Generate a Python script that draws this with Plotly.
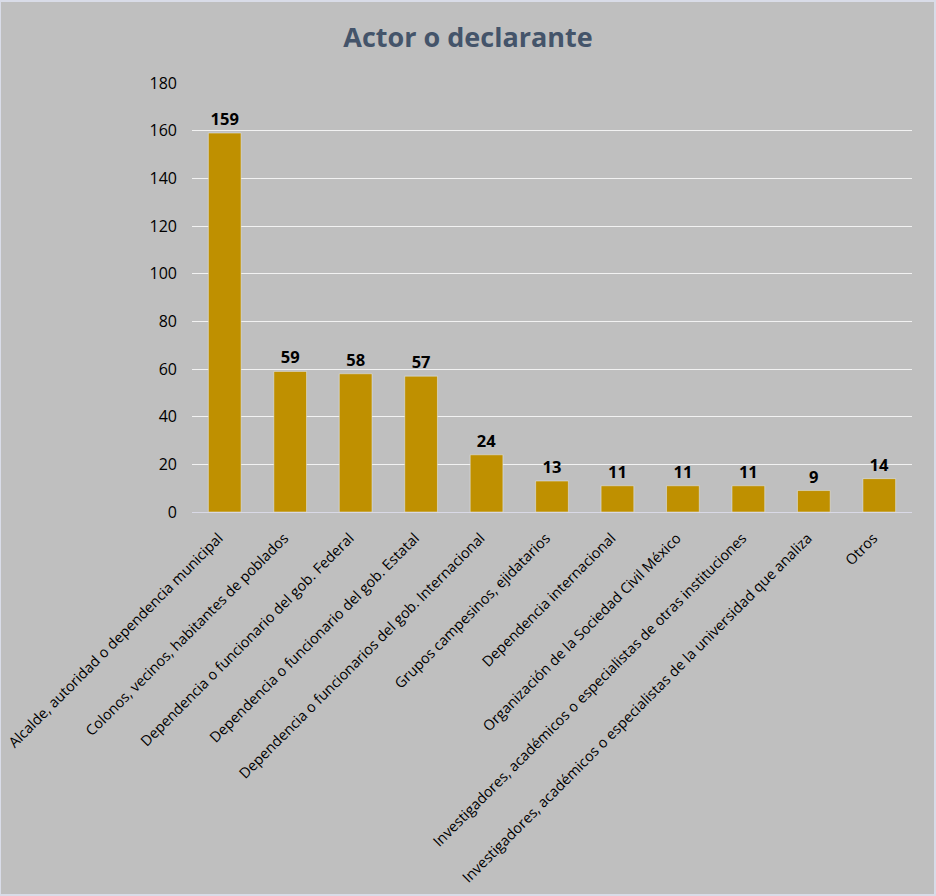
import plotly.graph_objects as go

# Actor o declarante - conteo por categoría
categorias = [
    "Alcalde, autoridad o dependencia municipal",
    "Colonos, vecinos, habitantes de poblados",
    "Dependencia o funcionario del gob. Federal",
    "Dependencia o funcionario del gob. Estatal",
    "Dependencia o funcionarios del gob. Internacional",
    "Grupos campesinos, ejidatarios",
    "Dependencia internacional",
    "Organización de la Sociedad Civil México",
    "Investigadores, académicos o especialistas de otras instituciones",
    "Investigadores, académicos o especialistas de la universidad que analiza",
    "Otros",
]
valores = [159, 59, 58, 57, 24, 13, 11, 11, 11, 9, 14]
ticks_y = [0, 20, 40, 60, 80, 100, 120, 140, 160, 180]

fuente = "Open Sans, sans-serif"

fig = go.Figure(go.Bar(
    x=categorias,
    y=valores,
    marker_color="#BF9000",
    text=valores,
    textposition="outside",
    textfont=dict(family=fuente, size=16.5, color="black", weight="bold"),
    cliponaxis=False,
))

fig.update_layout(
    width=936, height=896,
    paper_bgcolor="#BFBFBF",
    plot_bgcolor="#BFBFBF",
    margin=dict(l=192, r=24, t=83, b=384),
    bargap=0.5,
    showlegend=False,
    title=dict(text="<b>Actor o declarante</b>", x=0.5, xanchor="center",
               y=0.958, yanchor="middle",
               font=dict(family=fuente, size=27, color="#44546A")),
    font=dict(family=fuente, size=14, color="black"),
)
# borde claro alrededor del gráfico
fig.add_shape(type="rect", xref="paper", yref="paper",
              x0=-192 / 720, x1=1 + 23 / 720, y0=-383 / 429, y1=1 + 82 / 429,
              line=dict(color="#D9DCE8", width=2), layer="below")
fig.update_xaxes(tickangle=-45, showgrid=False, showline=True, automargin=False,
                 linecolor="#D9D9E6", linewidth=1, ticks="",
                 ticklabelstandoff=11, ticklabelshift=-6,
                 tickfont=dict(size=14.5))
fig.update_yaxes(range=[0, 180], tickvals=ticks_y, gridcolor="#F2F2F2",
                 gridwidth=1, zeroline=False, showline=False, automargin=False,
                 ticklabelstandoff=14, tickfont=dict(size=16))

fig.write_html("out.html", config={"displayModeBar": False},
               post_script="document.body.style.margin='0';window.dispatchEvent(new Event('resize'));")
